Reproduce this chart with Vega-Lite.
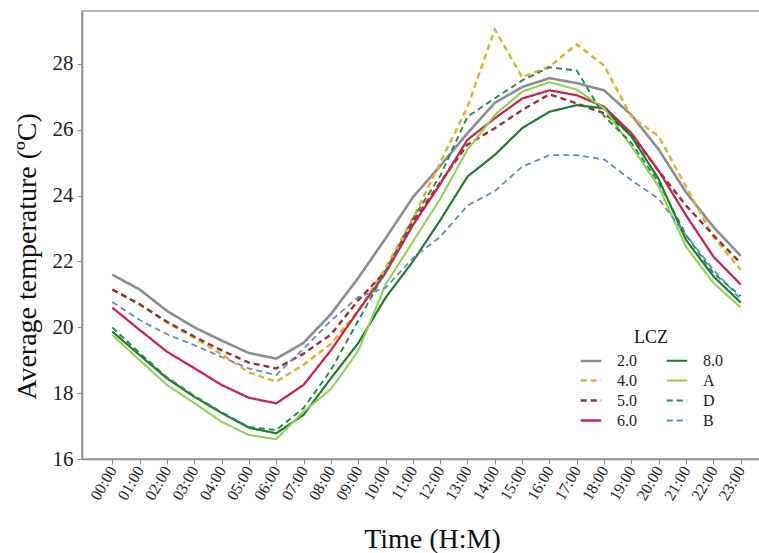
{
  "$schema": "https://vega.github.io/schema/vega-lite/v6.json",
  "description": "Average temperature by hour for each LCZ class.",
  "width": 680,
  "height": 448,
  "autosize": {"type": "none"},
  "padding": {"left": 82, "top": 11, "right": 0, "bottom": 94},
  "background": "white",
  "data": {
    "values": [
      {"LCZ": "2.0", "hour": 0, "temp": 21.6}, {"LCZ": "2.0", "hour": 1, "temp": 21.15}, {"LCZ": "2.0", "hour": 2, "temp": 20.5}, {"LCZ": "2.0", "hour": 3, "temp": 20.0},
      {"LCZ": "2.0", "hour": 4, "temp": 19.6}, {"LCZ": "2.0", "hour": 5, "temp": 19.22}, {"LCZ": "2.0", "hour": 6, "temp": 19.05}, {"LCZ": "2.0", "hour": 7, "temp": 19.53},
      {"LCZ": "2.0", "hour": 8, "temp": 20.4}, {"LCZ": "2.0", "hour": 9, "temp": 21.5}, {"LCZ": "2.0", "hour": 10, "temp": 22.7}, {"LCZ": "2.0", "hour": 11, "temp": 23.95},
      {"LCZ": "2.0", "hour": 12, "temp": 24.9}, {"LCZ": "2.0", "hour": 13, "temp": 25.9}, {"LCZ": "2.0", "hour": 14, "temp": 26.82}, {"LCZ": "2.0", "hour": 15, "temp": 27.3},
      {"LCZ": "2.0", "hour": 16, "temp": 27.57}, {"LCZ": "2.0", "hour": 17, "temp": 27.42}, {"LCZ": "2.0", "hour": 18, "temp": 27.2}, {"LCZ": "2.0", "hour": 19, "temp": 26.45},
      {"LCZ": "2.0", "hour": 20, "temp": 25.4}, {"LCZ": "2.0", "hour": 21, "temp": 24.1}, {"LCZ": "2.0", "hour": 22, "temp": 23.05}, {"LCZ": "2.0", "hour": 23, "temp": 22.17},

      {"LCZ": "4.0", "hour": 0, "temp": 21.15}, {"LCZ": "4.0", "hour": 1, "temp": 20.7}, {"LCZ": "4.0", "hour": 2, "temp": 20.15}, {"LCZ": "4.0", "hour": 3, "temp": 19.68},
      {"LCZ": "4.0", "hour": 4, "temp": 19.18}, {"LCZ": "4.0", "hour": 5, "temp": 18.63}, {"LCZ": "4.0", "hour": 6, "temp": 18.35}, {"LCZ": "4.0", "hour": 7, "temp": 18.86},
      {"LCZ": "4.0", "hour": 8, "temp": 19.5}, {"LCZ": "4.0", "hour": 9, "temp": 20.5}, {"LCZ": "4.0", "hour": 10, "temp": 21.8}, {"LCZ": "4.0", "hour": 11, "temp": 23.3},
      {"LCZ": "4.0", "hour": 12, "temp": 25.0}, {"LCZ": "4.0", "hour": 13, "temp": 26.7}, {"LCZ": "4.0", "hour": 14, "temp": 29.05}, {"LCZ": "4.0", "hour": 15, "temp": 27.6},
      {"LCZ": "4.0", "hour": 16, "temp": 27.92}, {"LCZ": "4.0", "hour": 17, "temp": 28.6}, {"LCZ": "4.0", "hour": 18, "temp": 27.95}, {"LCZ": "4.0", "hour": 19, "temp": 26.4},
      {"LCZ": "4.0", "hour": 20, "temp": 25.8}, {"LCZ": "4.0", "hour": 21, "temp": 24.27}, {"LCZ": "4.0", "hour": 22, "temp": 22.75}, {"LCZ": "4.0", "hour": 23, "temp": 21.75},

      {"LCZ": "5.0", "hour": 0, "temp": 21.15}, {"LCZ": "5.0", "hour": 1, "temp": 20.7}, {"LCZ": "5.0", "hour": 2, "temp": 20.17}, {"LCZ": "5.0", "hour": 3, "temp": 19.72},
      {"LCZ": "5.0", "hour": 4, "temp": 19.3}, {"LCZ": "5.0", "hour": 5, "temp": 18.93}, {"LCZ": "5.0", "hour": 6, "temp": 18.75}, {"LCZ": "5.0", "hour": 7, "temp": 19.2},
      {"LCZ": "5.0", "hour": 8, "temp": 19.78}, {"LCZ": "5.0", "hour": 9, "temp": 20.82}, {"LCZ": "5.0", "hour": 10, "temp": 21.7}, {"LCZ": "5.0", "hour": 11, "temp": 23.2},
      {"LCZ": "5.0", "hour": 12, "temp": 24.4}, {"LCZ": "5.0", "hour": 13, "temp": 25.55}, {"LCZ": "5.0", "hour": 14, "temp": 26.05}, {"LCZ": "5.0", "hour": 15, "temp": 26.6},
      {"LCZ": "5.0", "hour": 16, "temp": 27.08}, {"LCZ": "5.0", "hour": 17, "temp": 26.8}, {"LCZ": "5.0", "hour": 18, "temp": 26.5}, {"LCZ": "5.0", "hour": 19, "temp": 25.85},
      {"LCZ": "5.0", "hour": 20, "temp": 24.75}, {"LCZ": "5.0", "hour": 21, "temp": 23.7}, {"LCZ": "5.0", "hour": 22, "temp": 22.8}, {"LCZ": "5.0", "hour": 23, "temp": 21.95},

      {"LCZ": "6.0", "hour": 0, "temp": 20.6}, {"LCZ": "6.0", "hour": 1, "temp": 19.92}, {"LCZ": "6.0", "hour": 2, "temp": 19.26}, {"LCZ": "6.0", "hour": 3, "temp": 18.76},
      {"LCZ": "6.0", "hour": 4, "temp": 18.25}, {"LCZ": "6.0", "hour": 5, "temp": 17.86}, {"LCZ": "6.0", "hour": 6, "temp": 17.69}, {"LCZ": "6.0", "hour": 7, "temp": 18.25},
      {"LCZ": "6.0", "hour": 8, "temp": 19.3}, {"LCZ": "6.0", "hour": 9, "temp": 20.5}, {"LCZ": "6.0", "hour": 10, "temp": 21.65}, {"LCZ": "6.0", "hour": 11, "temp": 23.1},
      {"LCZ": "6.0", "hour": 12, "temp": 24.35}, {"LCZ": "6.0", "hour": 13, "temp": 25.7}, {"LCZ": "6.0", "hour": 14, "temp": 26.35}, {"LCZ": "6.0", "hour": 15, "temp": 26.95},
      {"LCZ": "6.0", "hour": 16, "temp": 27.2}, {"LCZ": "6.0", "hour": 17, "temp": 27.05}, {"LCZ": "6.0", "hour": 18, "temp": 26.7}, {"LCZ": "6.0", "hour": 19, "temp": 25.9},
      {"LCZ": "6.0", "hour": 20, "temp": 24.75}, {"LCZ": "6.0", "hour": 21, "temp": 23.4}, {"LCZ": "6.0", "hour": 22, "temp": 22.15}, {"LCZ": "6.0", "hour": 23, "temp": 21.3},

      {"LCZ": "8.0", "hour": 0, "temp": 19.87}, {"LCZ": "8.0", "hour": 1, "temp": 19.16}, {"LCZ": "8.0", "hour": 2, "temp": 18.45}, {"LCZ": "8.0", "hour": 3, "temp": 17.89},
      {"LCZ": "8.0", "hour": 4, "temp": 17.4}, {"LCZ": "8.0", "hour": 5, "temp": 16.95}, {"LCZ": "8.0", "hour": 6, "temp": 16.78}, {"LCZ": "8.0", "hour": 7, "temp": 17.34},
      {"LCZ": "8.0", "hour": 8, "temp": 18.45}, {"LCZ": "8.0", "hour": 9, "temp": 19.52}, {"LCZ": "8.0", "hour": 10, "temp": 20.9}, {"LCZ": "8.0", "hour": 11, "temp": 22.0},
      {"LCZ": "8.0", "hour": 12, "temp": 23.25}, {"LCZ": "8.0", "hour": 13, "temp": 24.58}, {"LCZ": "8.0", "hour": 14, "temp": 25.24}, {"LCZ": "8.0", "hour": 15, "temp": 26.05},
      {"LCZ": "8.0", "hour": 16, "temp": 26.55}, {"LCZ": "8.0", "hour": 17, "temp": 26.75}, {"LCZ": "8.0", "hour": 18, "temp": 26.65}, {"LCZ": "8.0", "hour": 19, "temp": 25.8},
      {"LCZ": "8.0", "hour": 20, "temp": 24.5}, {"LCZ": "8.0", "hour": 21, "temp": 22.65}, {"LCZ": "8.0", "hour": 22, "temp": 21.55}, {"LCZ": "8.0", "hour": 23, "temp": 20.75},

      {"LCZ": "A", "hour": 0, "temp": 19.77}, {"LCZ": "A", "hour": 1, "temp": 19.0}, {"LCZ": "A", "hour": 2, "temp": 18.25}, {"LCZ": "A", "hour": 3, "temp": 17.7},
      {"LCZ": "A", "hour": 4, "temp": 17.13}, {"LCZ": "A", "hour": 5, "temp": 16.73}, {"LCZ": "A", "hour": 6, "temp": 16.6}, {"LCZ": "A", "hour": 7, "temp": 17.44},
      {"LCZ": "A", "hour": 8, "temp": 18.12}, {"LCZ": "A", "hour": 9, "temp": 19.28}, {"LCZ": "A", "hour": 10, "temp": 21.3}, {"LCZ": "A", "hour": 11, "temp": 22.6},
      {"LCZ": "A", "hour": 12, "temp": 23.9}, {"LCZ": "A", "hour": 13, "temp": 25.4}, {"LCZ": "A", "hour": 14, "temp": 26.45}, {"LCZ": "A", "hour": 15, "temp": 27.16},
      {"LCZ": "A", "hour": 16, "temp": 27.45}, {"LCZ": "A", "hour": 17, "temp": 27.22}, {"LCZ": "A", "hour": 18, "temp": 26.65}, {"LCZ": "A", "hour": 19, "temp": 25.5},
      {"LCZ": "A", "hour": 20, "temp": 24.27}, {"LCZ": "A", "hour": 21, "temp": 22.45}, {"LCZ": "A", "hour": 22, "temp": 21.35}, {"LCZ": "A", "hour": 23, "temp": 20.6},

      {"LCZ": "D", "hour": 0, "temp": 20.0}, {"LCZ": "D", "hour": 1, "temp": 19.22}, {"LCZ": "D", "hour": 2, "temp": 18.48}, {"LCZ": "D", "hour": 3, "temp": 17.92},
      {"LCZ": "D", "hour": 4, "temp": 17.42}, {"LCZ": "D", "hour": 5, "temp": 16.97}, {"LCZ": "D", "hour": 6, "temp": 16.88}, {"LCZ": "D", "hour": 7, "temp": 17.55},
      {"LCZ": "D", "hour": 8, "temp": 18.7}, {"LCZ": "D", "hour": 9, "temp": 20.2}, {"LCZ": "D", "hour": 10, "temp": 21.7}, {"LCZ": "D", "hour": 11, "temp": 23.3},
      {"LCZ": "D", "hour": 12, "temp": 24.6}, {"LCZ": "D", "hour": 13, "temp": 26.4}, {"LCZ": "D", "hour": 14, "temp": 26.96}, {"LCZ": "D", "hour": 15, "temp": 27.5},
      {"LCZ": "D", "hour": 16, "temp": 27.9}, {"LCZ": "D", "hour": 17, "temp": 27.8}, {"LCZ": "D", "hour": 18, "temp": 26.42}, {"LCZ": "D", "hour": 19, "temp": 25.6},
      {"LCZ": "D", "hour": 20, "temp": 24.4}, {"LCZ": "D", "hour": 21, "temp": 22.8}, {"LCZ": "D", "hour": 22, "temp": 21.65}, {"LCZ": "D", "hour": 23, "temp": 20.95},

      {"LCZ": "B", "hour": 0, "temp": 20.77}, {"LCZ": "B", "hour": 1, "temp": 20.22}, {"LCZ": "B", "hour": 2, "temp": 19.79}, {"LCZ": "B", "hour": 3, "temp": 19.46},
      {"LCZ": "B", "hour": 4, "temp": 19.1}, {"LCZ": "B", "hour": 5, "temp": 18.75}, {"LCZ": "B", "hour": 6, "temp": 18.55}, {"LCZ": "B", "hour": 7, "temp": 19.35},
      {"LCZ": "B", "hour": 8, "temp": 20.2}, {"LCZ": "B", "hour": 9, "temp": 20.92}, {"LCZ": "B", "hour": 10, "temp": 21.2}, {"LCZ": "B", "hour": 11, "temp": 22.1},
      {"LCZ": "B", "hour": 12, "temp": 22.75}, {"LCZ": "B", "hour": 13, "temp": 23.7}, {"LCZ": "B", "hour": 14, "temp": 24.14}, {"LCZ": "B", "hour": 15, "temp": 24.88},
      {"LCZ": "B", "hour": 16, "temp": 25.23}, {"LCZ": "B", "hour": 17, "temp": 25.23}, {"LCZ": "B", "hour": 18, "temp": 25.1}, {"LCZ": "B", "hour": 19, "temp": 24.47},
      {"LCZ": "B", "hour": 20, "temp": 23.9}, {"LCZ": "B", "hour": 21, "temp": 22.8}, {"LCZ": "B", "hour": 22, "temp": 21.75}, {"LCZ": "B", "hour": 23, "temp": 20.85}
    ]
  },
  "mark": {"type": "line", "clip": true},
  "encoding": {
    "x": {
      "field": "hour",
      "type": "quantitative",
      "scale": {"domain": [-1.109, 23.779], "nice": false, "zero": false},
      "axis": {
        "title": "Time (H:M)",
        "values": [0, 1, 2, 3, 4, 5, 6, 7, 8, 9, 10, 11, 12, 13, 14, 15, 16, 17, 18, 19, 20, 21, 22, 23],
        "labelExpr": "(datum.value < 10 ? '0' : '') + datum.value + ':00'",
        "labelAngle": -60,
        "labelAlign": "right",
        "labelBaseline": "middle",
        "labelFontSize": 16,
        "labelOverlap": false,
        "labelBound": false,
        "labelPadding": 3,
        "tickSize": 5,
        "titleFontSize": 28,
        "titleX": 350,
        "titleY": 80,
        "titleBaseline": "middle"
      }
    },
    "y": {
      "field": "temp",
      "type": "quantitative",
      "scale": {"domain": [16, 29.61], "nice": false, "zero": false},
      "axis": {
        "title": "Average temperature (ºC)",
        "values": [16, 18, 20, 22, 24, 26, 28],
        "labelFontSize": 21,
        "labelPadding": 4,
        "tickSize": 5,
        "titleFontSize": 28,
        "titleX": -55,
        "titleY": 245,
        "titleAngle": -90,
        "titleAlign": "center",
        "titleBaseline": "middle"
      }
    },
    "color": {
      "field": "LCZ",
      "type": "nominal",
      "scale": {
        "domain": ["2.0", "4.0", "5.0", "6.0", "8.0", "A", "D", "B"],
        "range": ["#8c8c94", "#e0b030", "#962f35", "#c8234b", "#1b7a2c", "#8fd24f", "#238b45", "#5b8fcf"]
      },
      "legend": {
        "title": "LCZ",
        "orient": "none",
        "legendX": 497,
        "legendY": 318,
        "columns": 2,
        "symbolType": "stroke",
        "symbolSize": 420,
        "symbolStrokeWidth": 3,
        "labelFontSize": 16,
        "labelOffset": 14,
        "columnPadding": 25,
        "rowPadding": 0,
        "titleFontSize": 18,
        "titleFontWeight": "normal",
        "titleAnchor": "middle",
        "titlePadding": 2
      }
    },
    "strokeDash": {
      "field": "LCZ",
      "type": "nominal",
      "scale": {
        "domain": ["2.0", "4.0", "5.0", "6.0", "8.0", "A", "D", "B"],
        "range": [[1, 0], [6, 4], [6, 4], [1, 0], [1, 0], [1, 0], [6, 4], [6, 4]]
      }
    },
    "strokeWidth": {
      "field": "LCZ",
      "type": "nominal",
      "scale": {
        "domain": ["2.0", "4.0", "5.0", "6.0", "8.0", "A", "D", "B"],
        "range": [2.6, 1.8, 1.8, 2.6, 2.6, 2.6, 1.8, 1.8]
      },
      "legend": null
    }
  },
  "config": {
    "font": "Liberation Serif",
    "view": {"stroke": "#a0a0a0", "strokeWidth": 1.5},
    "axis": {
      "grid": false,
      "domainColor": "#8c8c8c",
      "domainWidth": 1.5,
      "tickColor": "#8c8c8c",
      "labelColor": "#222222",
      "titleColor": "#111111",
      "titleFontWeight": "normal",
      "labelFont": "Liberation Serif",
      "titleFont": "Liberation Serif"
    },
    "legend": {
      "labelFont": "Liberation Serif",
      "titleFont": "Liberation Serif",
      "labelColor": "#222222",
      "titleColor": "#111111"
    }
  }
}
